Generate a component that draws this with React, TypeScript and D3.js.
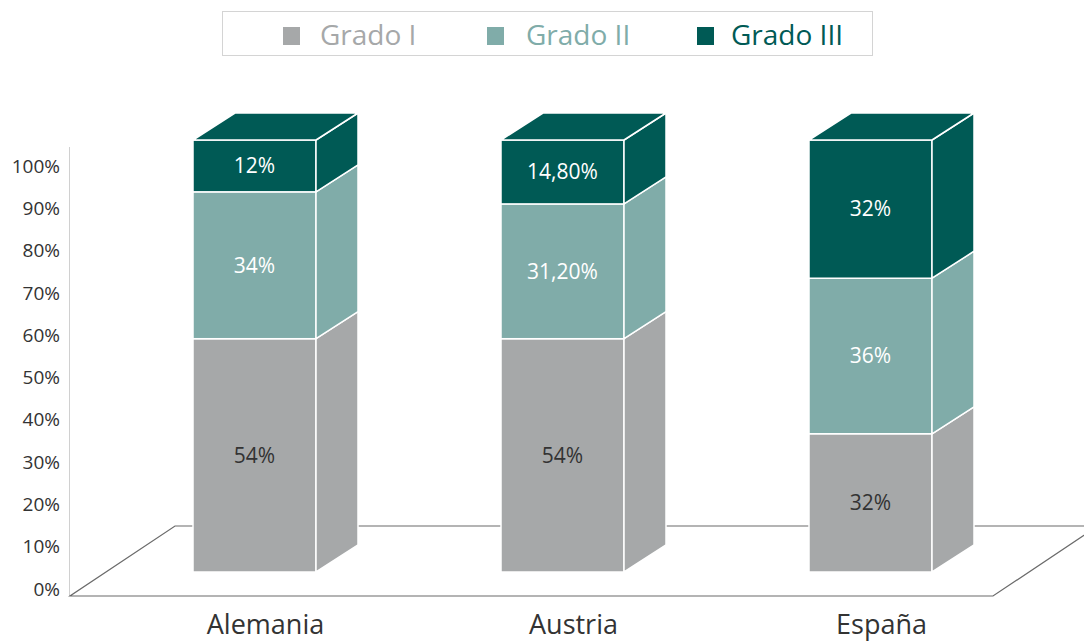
import React from "react";
import * as d3 from "d3";

const categories = ["Alemania", "Austria", "España"];
const seriesNames = ["Grado I", "Grado II", "Grado III"];
const gradoI = [54, 54, 32];
const gradoII = [34, 31.2, 36];
const gradoIII = [12, 14.8, 32];
const valueLabels = [
  ["54%", "34%", "12%"],
  ["54%", "31,20%", "14,80%"],
  ["32%", "36%", "32%"],
];
const axisTicks = [0, 10, 20, 30, 40, 50, 60, 70, 80, 90, 100];
const colors = ["#a6a8a9", "#80aca9", "#005a55"];
const labelColors = ["#333333", "#ffffff", "#ffffff"];

const W = 1084;
const H = 642;
const FONT = "'Open Sans', 'Noto Sans', sans-serif";

export default function App() {
  const series = [gradoI, gradoII, gradoIII];
  const x = d3.scalePoint<string>().domain(categories).range([254.5, 870.5]);
  const barW = 123;
  const dx = 42;
  const dy = -27;
  const yBar = d3.scaleLinear().domain([0, 100]).range([572, 140]);
  const yAxis = d3.scaleLinear().domain([0, 100]).range([589, 166]);

  const stacks = categories.map((c, i) => {
    let acc = 0;
    return series.map((s, k) => {
      const y0 = acc;
      acc += s[i];
      return { k, y0, y1: acc, label: valueLabels[i][k] };
    });
  });

  return (
    <svg width={W} height={H} style={{ display: "block", position: "absolute", left: 0, top: 0 }} fontFamily={FONT}>
      <rect width={W} height={H} fill="#fff" />
      {/* legend */}
      <rect x={222.5} y={11.5} width={650} height={44} fill="#fff" stroke="#d4d4d4" strokeWidth={1} />
      {seriesNames.map((n, k) => {
        const sx = [283, 487, 697][k];
        const tx = [320, 526, 731][k];
        return (
          <g key={n}>
            <rect x={sx} y={27} width={17} height={18} fill={colors[k]} />
            <text x={tx} y={44.5} fontSize={28} fill={colors[k]}>
              {n}
            </text>
          </g>
        );
      })}
      {/* axis */}
      <line x1={69.5} x2={69.5} y1={147} y2={596} stroke="#d0d0d0" strokeWidth={1} />
      {axisTicks.map((t) => (
        <text key={t} x={60} y={yAxis(t)} dy="0.35em" textAnchor="end" fontSize={19} fill="#333">
          {t}%
        </text>
      ))}
      {/* floor */}
      <path
        d={`M70,596 L993,596 L1098,526 L175,526 Z`}
        fill="none"
        stroke="#6a6a6a"
        strokeWidth={1.2}
      />
      {/* bars */}
      {categories.map((c, i) => {
        const x0 = (x(c) as number) - barW / 2;
        const x1 = x0 + barW;
        const segs = stacks[i];
        const top = segs[segs.length - 1];
        return (
          <g key={c}>
            {segs.map((s) => {
              const yt = yBar(s.y1);
              const yb = yBar(s.y0);
              return (
                <g key={s.k}>
                  <rect x={x0} y={yt} width={barW} height={yb - yt} fill={colors[s.k]} stroke="#fff" strokeWidth={1.5} />
                  <path
                    d={`M${x1},${yt} L${x1 + dx},${yt + dy} L${x1 + dx},${yb + dy} L${x1},${yb} Z`}
                    fill={colors[s.k]}
                    stroke="#fff"
                    strokeWidth={1.5}
                    strokeLinejoin="round"
                  />
                </g>
              );
            })}
            <path
              d={`M${x0},${yBar(top.y1)} L${x0 + dx},${yBar(top.y1) + dy} L${x1 + dx},${yBar(top.y1) + dy} L${x1},${yBar(top.y1)} Z`}
              fill={colors[top.k]}
              stroke="#fff"
              strokeWidth={1.5}
              strokeLinejoin="round"
            />
            {segs.map((s) => (
              <text
                key={"l" + s.k}
                x={x0 + barW / 2}
                y={(yBar(s.y0) + yBar(s.y1)) / 2}
                dy="0.35em"
                textAnchor="middle"
                fontSize={21}
                fill={labelColors[s.k]}
              >
                {s.label}
              </text>
            ))}
            <text x={(x(c) as number) + 11} y={634} textAnchor="middle" fontSize={27} fill="#333">
              {c}
            </text>
          </g>
        );
      })}
    </svg>
  );
}
